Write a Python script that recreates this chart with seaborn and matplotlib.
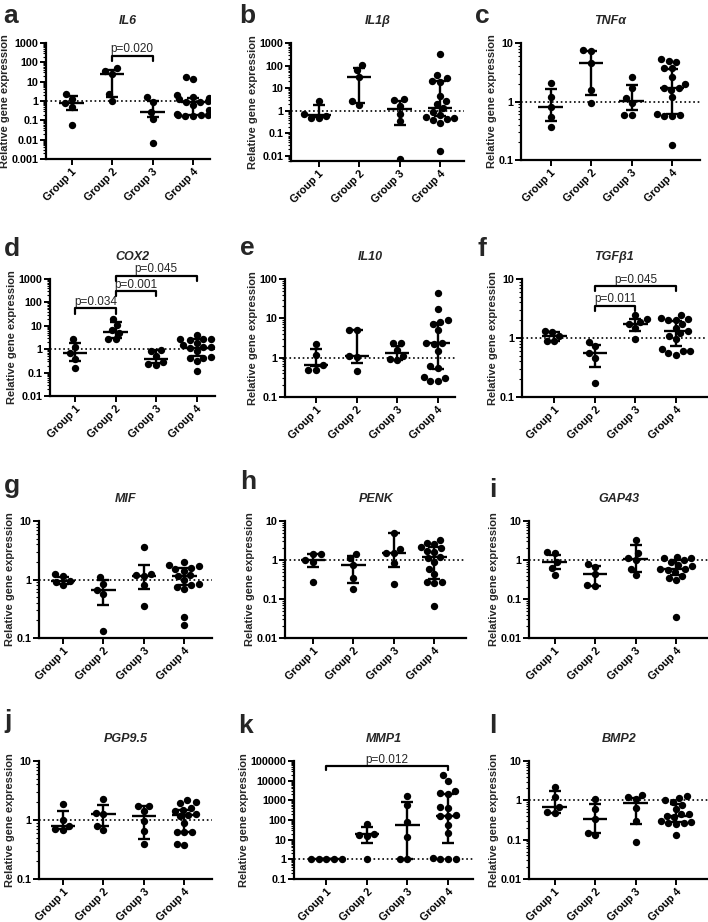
import matplotlib
matplotlib.use('Agg')
import matplotlib.pyplot as plt
import seaborn as sns
import numpy as np
import pandas as pd
from matplotlib.ticker import LogLocator, FuncFormatter, NullFormatter

GROUPS = ['Group 1', 'Group 2', 'Group 3', 'Group 4']

# values: points per group, then median / quartiles
IL6_PTS = [[2.4, 1.3, 0.8, 0.5, 0.06],
           [48, 37, 24, 2.2, 1.0],
           [1.6, 0.85, 0.28, 0.12, 0.007],
           [18, 13, 2.0, 1.6, 1.4, 1.2, 1.0, 0.9, 0.85, 0.6, 0.35, 0.22, 0.2, 0.19, 0.18, 0.17, 0.17]]
IL6_MED = [0.79, 24, 0.28, 0.89]
IL6_Q1 = [0.33, 1.6, 0.15, 0.2]
IL6_Q3 = [1.74, 41, 1.0, 1.5]

IL1B_PTS = [[2.8, 0.7, 0.6, 0.5, 0.5],
            [105, 65, 32, 2.6, 1.8],
            [3.2, 2.9, 1.7, 0.75, 0.35, 0.007],
            [340, 38, 28, 20, 19, 4.7, 2.6, 2.0, 1.3, 0.9, 0.65, 0.55, 0.5, 0.45, 0.4, 0.3, 0.016]]
IL1B_MED = [0.62, 32, 1.2, 1.3]
IL1B_Q1 = [0.55, 2.2, 0.24, 0.56]
IL1B_Q3 = [1.8, 78, 2.8, 20]

TNFA_PTS = [[2.1, 1.2, 0.79, 0.55, 0.37],
            [7.5, 7.3, 4.6, 1.6, 0.93],
            [2.6, 1.7, 1.15, 0.95, 0.58, 0.58],
            [5.3, 5.0, 4.7, 3.8, 3.7, 2.6, 2.0, 1.7, 1.7, 1.6, 1.2, 0.6, 0.58, 0.57, 0.56, 0.18]]
TNFA_MED = [0.79, 4.6, 1.04, 1.68]
TNFA_Q1 = [0.46, 1.3, 0.72, 0.62]
TNFA_Q3 = [1.64, 7.4, 1.94, 3.6]

COX2_PTS = [[2.6, 1.3, 0.67, 0.4, 0.16],
            [20, 11, 6.5, 5.0, 2.8, 2.6],
            [0.9, 0.85, 0.5, 0.28, 0.24, 0.22],
            [4.0, 2.8, 2.7, 2.6, 2.5, 1.8, 1.5, 1.3, 1.2, 1.1, 0.8, 0.45, 0.44, 0.42, 0.3, 0.12]]
COX2_MED = [0.67, 5.7, 0.37, 1.18]
COX2_Q1 = [0.3, 2.9, 0.25, 0.52]
COX2_Q3 = [1.8, 14.8, 0.94, 2.7]

IL10_PTS = [[2.2, 1.2, 0.64, 0.5, 0.5],
            [5.1, 5.0, 1.1, 1.05, 0.46],
            [2.4, 2.3, 1.6, 1.1, 0.9, 0.85],
            [45, 17, 9.0, 8.0, 7.0, 5.0, 2.3, 2.3, 2.2, 1.5, 0.6, 0.55, 0.33, 0.3, 0.25, 0.25]]
IL10_MED = [0.64, 1.1, 1.3, 2.3]
IL10_Q1 = [0.62, 0.75, 0.87, 0.52]
IL10_Q3 = [1.7, 5.1, 2.0, 7.8]

TGFB1_PTS = [[1.33, 1.25, 1.1, 0.9, 0.88],
             [0.85, 0.72, 0.55, 0.45, 0.17],
             [2.5, 2.1, 1.9, 1.75, 1.5, 0.95],
             [2.5, 2.2, 2.1, 2.0, 2.0, 1.7, 1.5, 1.3, 1.2, 1.1, 0.95, 0.65, 0.6, 0.6, 0.55, 0.52]]
TGFB1_MED = [1.1, 0.55, 1.73, 1.3]
TGFB1_Q1 = [0.9, 0.32, 1.3, 0.74]
TGFB1_Q3 = [1.28, 0.77, 2.1, 1.92]

MIF_PTS = [[1.25, 1.15, 0.95, 0.9, 0.82],
           [1.1, 0.85, 0.67, 0.57, 0.13],
           [3.6, 1.25, 1.2, 1.15, 0.8, 0.35],
           [2.0, 1.8, 1.7, 1.6, 1.5, 1.4, 1.2, 1.15, 1.0, 0.85, 0.8, 0.75, 0.7, 0.23, 0.17]]
MIF_MED = [0.93, 0.67, 1.17, 1.17]
MIF_Q1 = [0.84, 0.36, 0.69, 0.8]
MIF_Q3 = [1.12, 0.99, 1.8, 1.58]

PENK_PTS = [[1.45, 1.4, 1.0, 0.9, 0.28],
            [1.45, 1.1, 0.75, 0.35, 0.18],
            [5.0, 1.9, 1.55, 1.5, 0.85, 0.24],
            [3.3, 2.8, 2.5, 2.2, 2.0, 1.7, 1.6, 1.2, 1.1, 0.9, 0.6, 0.45, 0.28, 0.27, 0.26, 0.065]]
PENK_MED = [1.0, 0.75, 1.54, 1.2]
PENK_Q1 = [0.65, 0.26, 0.68, 0.32]
PENK_Q3 = [1.42, 1.27, 4.8, 2.1]

GAP43_PTS = [[1.6, 1.5, 0.87, 0.62, 0.41],
             [0.8, 0.67, 0.43, 0.23, 0.21],
             [3.3, 1.5, 1.1, 1.0, 0.6, 0.42],
             [1.2, 1.15, 1.1, 1.0, 0.9, 0.75, 0.7, 0.6, 0.6, 0.55, 0.5, 0.4, 0.35, 0.3, 0.034]]
GAP43_MED = [0.87, 0.43, 1.06, 0.6]
GAP43_Q1 = [0.58, 0.22, 0.5, 0.42]
GAP43_Q3 = [1.34, 0.72, 2.46, 0.98]

PGP95_PTS = [[1.9, 1.0, 0.8, 0.7, 0.68],
             [2.3, 1.3, 1.25, 0.8, 0.68],
             [1.75, 1.7, 1.4, 0.95, 0.65, 0.39],
             [2.2, 2.0, 1.95, 1.6, 1.5, 1.4, 1.25, 1.2, 1.15, 0.9, 0.63, 0.62, 0.62, 0.39, 0.38]]
PGP95_MED = [0.79, 1.26, 1.17, 1.21]
PGP95_Q1 = [0.7, 0.79, 0.47, 0.63]
PGP95_Q3 = [1.44, 1.79, 1.72, 1.5]

MMP1_PTS = [[1, 1, 1, 1, 1],
            [60, 20, 18, 15, 1.0],
            [1600, 600, 80, 14, 1, 1],
            [20000, 10000, 3000, 2500, 2000, 450, 430, 180, 160, 155, 55, 23, 1.2, 1, 1, 1]]
MMP1_MED = [1, 18.6, 55, 160]
MMP1_Q1 = [1, 7, 1, 7]
MMP1_Q3 = [1, 42, 820, 2100]

BMP2_PTS = [[2.2, 1.25, 0.68, 0.5, 0.48],
            [1.05, 0.6, 0.34, 0.15, 0.13],
            [1.35, 1.2, 1.1, 0.65, 0.3, 0.085],
            [1.3, 1.15, 1.0, 0.9, 0.75, 0.6, 0.45, 0.45, 0.4, 0.38, 0.3, 0.28, 0.27, 0.26, 0.25, 0.13]]
BMP2_MED = [0.68, 0.34, 0.86, 0.39]
BMP2_Q1 = [0.48, 0.15, 0.25, 0.28]
BMP2_Q3 = [1.7, 0.82, 1.17, 0.82]

# significance brackets: (group a, group b, bar height, tick end, label)
IL6_BRACKETS = [(1, 2, 224, 123, 'p=0.020')]
COX2_BRACKETS = [(0, 1, 57, 33, 'p=0.034'), (1, 2, 297, 180, 'p=0.001'),
                 (1, 3, 1390, 794, 'p=0.045')]
TGFB1_BRACKETS = [(1, 2, 3.55, 2.92, 'p=0.011'), (1, 3, 7.6, 6.2, 'p=0.045')]
MMP1_BRACKETS = [(0, 3, 56000, 35000, 'p=0.012')]

W, H = 708, 922
PX_PER_UNIT = 40.5

sns.set_style('ticks')
plt.rcParams['font.family'] = ['Liberation Sans', 'DejaVu Sans']
plt.rcParams['font.weight'] = 'bold'
plt.rcParams['axes.labelweight'] = 'bold'
plt.rcParams['axes.edgecolor'] = 'black'
plt.rcParams['xtick.color'] = 'black'
plt.rcParams['ytick.color'] = 'black'

fig = plt.figure(figsize=(W / 100, H / 100), dpi=100)
fig.patch.set_facecolor('white')

# letter, title, data, ylim, brackets, (left, top, bottom, xlo, xhi) px, letter pos px
PANELS = [
    ('a', 'IL6', IL6_PTS, IL6_MED, IL6_Q1, IL6_Q3, (0.001, 1000), IL6_BRACKETS,
     (46, 43, 159, -0.63, 3.43), (3, 23)),
    ('b', 'IL1β', IL1B_PTS, IL1B_MED, IL1B_Q1, IL1B_Q3, (0.006, 1000), [],
     (291, 43, 161, -0.68, 3.58), (239, 23)),
    ('c', 'TNFα', TNFA_PTS, TNFA_MED, TNFA_Q1, TNFA_Q3, (0.1, 10), [],
     (521, 43, 160, -0.73, 3.68), (475, 23)),
    ('d', 'COX2', COX2_PTS, COX2_MED, COX2_Q1, COX2_Q3, (0.01, 1000), COX2_BRACKETS,
     (50, 279, 396, -0.62, 3.45), (4, 256)),
    ('e', 'IL10', IL10_PTS, IL10_MED, IL10_Q1, IL10_Q3, (0.1, 100), [],
     (285, 279, 397, -0.77, 3.42), (240, 255)),
    ('f', 'TGFβ1', TGFB1_PTS, TGFB1_MED, TGFB1_Q1, TGFB1_Q3, (0.1, 10), TGFB1_BRACKETS,
     (522, 279, 397, -0.8, 3.76), (477, 256)),
    ('g', 'MIF', MIF_PTS, MIF_MED, MIF_Q1, MIF_Q3, (0.1, 10), [],
     (39, 521, 638, -0.59, 3.69), (4, 493)),
    ('h', 'PENK', PENK_PTS, PENK_MED, PENK_Q1, PENK_Q3, (0.01, 10), [],
     (285, 521, 638, -0.69, 3.79), (240, 489)),
    ('i', 'GAP43', GAP43_PTS, GAP43_MED, GAP43_Q1, GAP43_Q3, (0.01, 10), [],
     (529, 521, 638, -0.63, 3.8), (489, 497)),
    ('j', 'PGP9.5', PGP95_PTS, PGP95_MED, PGP95_Q1, PGP95_Q3, (0.1, 10), [],
     (39, 761, 879, -0.59, 3.69), (4, 728)),
    ('k', 'MMP1', MMP1_PTS, MMP1_MED, MMP1_Q1, MMP1_Q3, (0.1, 100000), MMP1_BRACKETS,
     (294, 761, 879, -0.8, 3.63), (238, 733)),
    ('l', 'BMP2', BMP2_PTS, BMP2_MED, BMP2_Q1, BMP2_Q3, (0.01, 10), [],
     (529, 761, 879, -0.63, 3.8), (489, 733)),
]


def draw_panel(letter, title, pts, med, q1, q3, ylim, brackets, rect, letter_pos):
    left, top, bottom, xlo, xhi = rect
    width = (xhi - xlo) * PX_PER_UNIT
    ax = fig.add_axes([left / W, 1 - bottom / H, width / W, (bottom - top) / H])

    df = pd.DataFrame({'group': [g for g, v in zip(GROUPS, pts) for _ in v],
                       'value': [x for v in pts for x in v]})
    sns.swarmplot(data=df, x='group', y='value', order=GROUPS, color='black',
                  size=5.3, linewidth=0, log_scale=True, warn_thresh=1,
                  ax=ax, zorder=2)

    pos = np.arange(len(GROUPS))
    med = np.array(med, dtype=float)
    ax.hlines(med, pos - 0.3, pos + 0.3, color='black', lw=1.7, zorder=3)
    ax.errorbar(pos, med, yerr=[med - np.array(q1), np.array(q3) - med],
                fmt='none', ecolor='black', elinewidth=1.7, capsize=4.5,
                capthick=1.7, zorder=3)
    ax.axhline(1, color='black', ls=':', lw=1.2, zorder=1)

    for g1, g2, ytop, ylow, label in brackets:
        ax.plot([g1, g1, g2, g2], [ylow, ytop, ytop, ylow], color='black',
                lw=1.6, clip_on=False, zorder=4)
        ax.annotate(label, xy=((g1 + g2) / 2, ytop), xytext=(0, 0.3),
                    textcoords='offset points', ha='center', va='bottom',
                    fontsize=8.5, fontweight='normal', annotation_clip=False)

    ax.set_xlim(xlo, xhi)
    ax.set_ylim(*ylim)
    ax.yaxis.set_major_locator(LogLocator(base=10, numticks=20))
    ax.yaxis.set_minor_locator(LogLocator(base=10, subs=np.arange(2, 10), numticks=20))
    ax.yaxis.set_major_formatter(FuncFormatter(lambda v, _: f'{v:g}'))
    ax.yaxis.set_minor_formatter(NullFormatter())

    ax.set_xticks(pos)
    ax.set_xticklabels(GROUPS, rotation=45, ha='right', va='top',
                       rotation_mode='anchor', fontsize=7.8, fontweight='bold')
    ax.set_xlabel('')
    ax.set_ylabel('Relative gene expression', fontsize=8, labelpad=1)
    ax.tick_params(axis='both', which='major', direction='out', length=4,
                   width=1.4, pad=1.5)
    ax.tick_params(axis='y', which='major', labelsize=7.8)
    ax.tick_params(axis='y', which='minor', direction='out', length=2, width=0.8)
    sns.despine(ax=ax)
    for side in ('left', 'bottom'):
        ax.spines[side].set_linewidth(1.6)
    ax.set_facecolor('white')

    ax.set_title(title, fontsize=9, fontstyle='italic', fontweight='bold', pad=14)
    fig.text(letter_pos[0] / W, 1 - letter_pos[1] / H, letter, fontsize=19,
             fontweight='bold', ha='left', va='baseline')


for panel in PANELS:
    draw_panel(*panel)

fig.savefig('out.png', dpi=100, facecolor='white')
